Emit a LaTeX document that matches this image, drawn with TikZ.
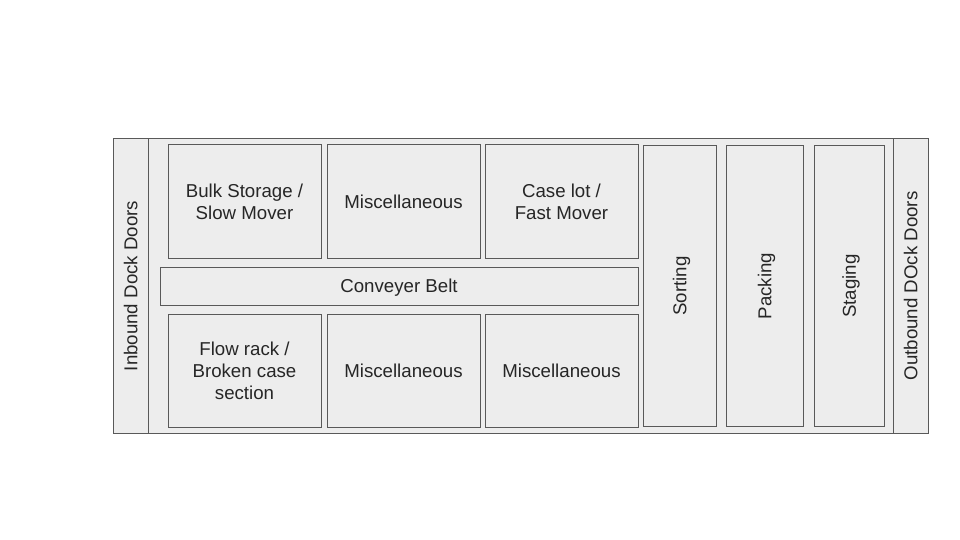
\documentclass[tikz,border=0pt]{standalone}
\usepackage{fontspec}
\setmainfont{Liberation Sans}
\begin{document}
\begin{tikzpicture}[x=1pt,y=-1pt,
  zone/.style={draw=black!65, fill=black!7, line width=1pt, inner sep=0pt, align=center,
    text depth=0pt, font=\fontsize{18.67}{22}\selectfont, text=black!85},
  vzone/.style={zone, rotate=90}]
\useasboundingbox (0,0) rectangle (960,540);
% outer hall
\node[zone, minimum width=815pt, minimum height=294pt] (hall) at (520.5,286) {};
\node[vzone, minimum width=294pt, minimum height=35pt] (inb) at (130.5,286) {Inbound Dock Doors};
\node[vzone, minimum width=294pt, minimum height=35pt] (outb) at (910.5,286) {Outbound DOck Doors};
% storage blocks
\node[zone, minimum width=153pt, minimum height=113pt] (bulk) at (244.5,201.5) {Bulk Storage /\\Slow Mover};
\node[zone, minimum width=153pt, minimum height=113pt] (misc1) at (403.5,201.5) {Miscellaneous};
\node[zone, minimum width=153pt, minimum height=113pt] (case) at (561.5,201.5) {Case lot /\\Fast Mover};
\node[zone, minimum width=478pt, minimum height=38pt] (belt) at (399,286) {Conveyer Belt};
\node[zone, minimum width=153pt, minimum height=113pt] (flow) at (244.5,370.5) {Flow rack /\\Broken case\\section};
\node[zone, minimum width=153pt, minimum height=113pt] (misc2) at (403.5,370.5) {Miscellaneous};
\node[zone, minimum width=153pt, minimum height=113pt] (misc3) at (561.5,370.5) {Miscellaneous};
% vertical work areas
\node[vzone, minimum width=280pt, minimum height=73pt] (sort) at (679.5,286) {Sorting};
\node[vzone, minimum width=280pt, minimum height=77pt] (pack) at (764.5,286) {Packing};
\node[vzone, minimum width=280pt, minimum height=70pt] (stage) at (849,286) {Staging};
\end{tikzpicture}
\end{document}
